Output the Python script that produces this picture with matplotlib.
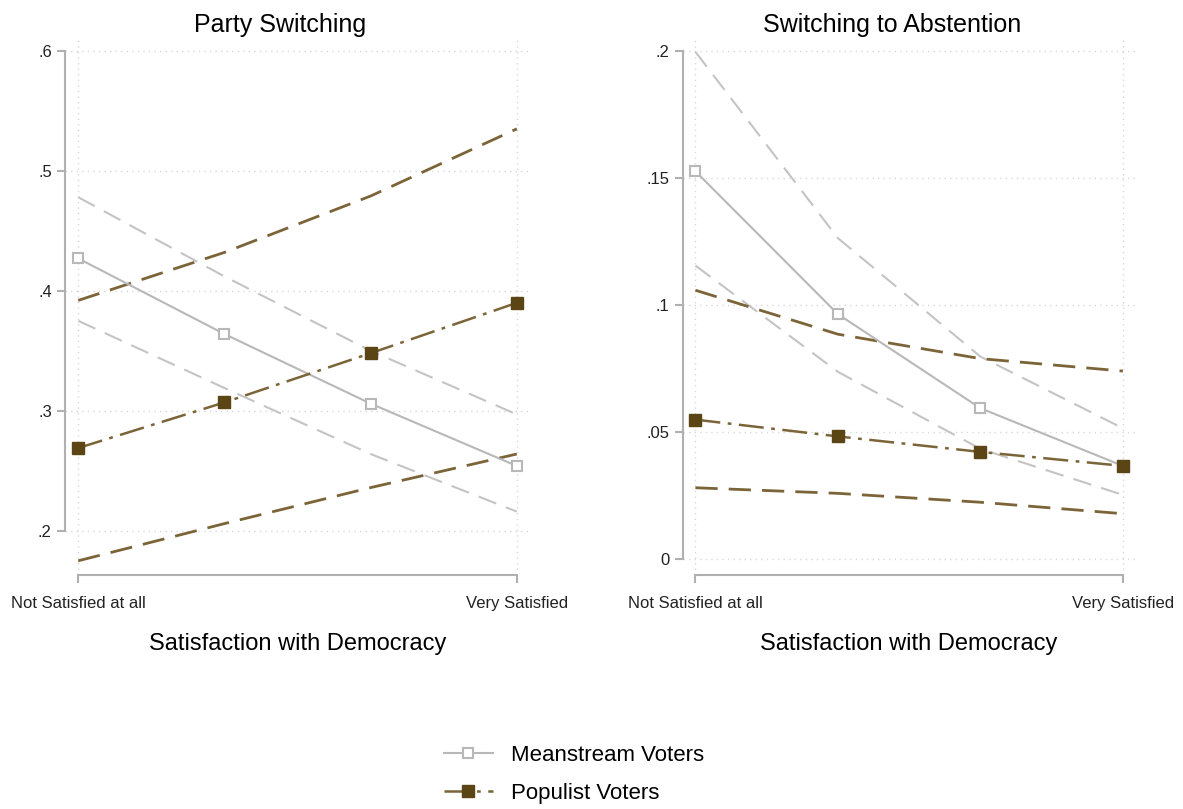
import matplotlib.pyplot as plt
from matplotlib.lines import Line2D

plt.rcParams['font.family'] = ['Liberation Sans', 'DejaVu Sans']

# satisfaction levels (1 = not at all, 4 = very)
levels = [1, 2, 3, 4]
xtick_pos = [1, 4]
xtick_labels = ["Not Satisfied at all", "Very Satisfied"]

# Party switching
ps_main = [0.427, 0.364, 0.306, 0.254]
ps_main_hi = [0.478, 0.412, 0.350, 0.297]
ps_main_lo = [0.375, 0.319, 0.264, 0.216]
ps_pop = [0.269, 0.307, 0.348, 0.390]
ps_pop_hi = [0.392, 0.432, 0.479, 0.535]
ps_pop_lo = [0.175, 0.206, 0.236, 0.264]
ps_ticks = [0.2, 0.3, 0.4, 0.5, 0.6]
ps_ticklabels = [".2", ".3", ".4", ".5", ".6"]

# Switching to abstention
ab_main = [0.1526, 0.0964, 0.0594, 0.0367]
ab_main_hi = [0.1996, 0.1263, 0.0797, 0.0515]
ab_main_lo = [0.1155, 0.0737, 0.0434, 0.0253]
ab_pop = [0.0549, 0.0483, 0.0422, 0.0367]
ab_pop_hi = [0.1058, 0.0885, 0.0789, 0.0740]
ab_pop_lo = [0.0281, 0.0259, 0.0224, 0.0179]
ab_ticks = [0, 0.05, 0.1, 0.15, 0.2]
ab_ticklabels = ["0", ".05", ".1", ".15", ".2"]

GREY = "#b8b8b8"
GREY_CI = "#c4c4c4"
BROWN = "#5c4515"
BROWN_CI = "#7b6438"
AXC = "#b0b0b0"


def panel(ax, title, main, main_hi, main_lo, pop, pop_hi, pop_lo, ticks, labels, ylim):
    for v in ticks:
        ax.axhline(v, color="#d8d8d8", lw=1, ls=(0, (1, 3)), zorder=0)
    for v in xtick_pos:
        ax.axvline(v, color="#d8d8d8", lw=1, ls=(0, (1, 3)), zorder=0)

    ax.plot(levels, main_hi, color=GREY_CI, lw=1.5, ls=(0, (9, 5)))
    ax.plot(levels, main_lo, color=GREY_CI, lw=1.5, ls=(0, (9, 5)))
    ax.plot(levels, pop_hi, color=BROWN_CI, lw=2, ls=(0, (8, 4)))
    ax.plot(levels, pop_lo, color=BROWN_CI, lw=2, ls=(0, (8, 4)))
    ax.plot(levels, main, color=GREY, lw=1.5, marker="s", ms=7.5,
            mfc="white", mec=GREY, mew=1.5)
    ax.plot(levels, pop, color=BROWN_CI, lw=1.8, ls=(0, (10, 3, 1.5, 3)),
            marker="s", ms=9, mfc=BROWN, mec=BROWN)

    ax.set_xlim(0.91, 4.09)
    ax.set_ylim(*ylim)
    ax.set_yticks(ticks)
    ax.set_yticklabels(labels)
    ax.set_xticks(xtick_pos)
    ax.set_xticklabels(xtick_labels)
    for s in ["top", "right"]:
        ax.spines[s].set_visible(False)
    ax.spines["left"].set_bounds(ticks[0], ticks[-1])
    ax.spines["bottom"].set_bounds(1, 4)
    ax.spines["left"].set_color(AXC)
    ax.spines["bottom"].set_color(AXC)
    ax.spines["left"].set_linewidth(1.5)
    ax.spines["bottom"].set_linewidth(1.5)
    ax.tick_params(axis="both", colors=AXC, labelcolor="#222222", labelsize=12,
                   length=6, width=1.5)
    ax.tick_params(axis="x", pad=9)
    ax.set_title(title, fontsize=18, pad=5, x=0.462)
    ax.set_xlabel("Satisfaction with Democracy", fontsize=17, labelpad=16)


fig = plt.figure(figsize=(11.83, 8.09), dpi=100)
ax1 = fig.add_axes([0.055, 0.289, 0.393, 0.663])
ax2 = fig.add_axes([0.577, 0.289, 0.383, 0.663])

panel(ax1, "Party Switching", ps_main, ps_main_hi, ps_main_lo,
      ps_pop, ps_pop_hi, ps_pop_lo, ps_ticks, ps_ticklabels, (0.163, 0.61))
panel(ax2, "Switching to Abstention", ab_main, ab_main_hi, ab_main_lo,
      ab_pop, ab_pop_hi, ab_pop_lo, ab_ticks, ab_ticklabels, (-0.0063, 0.2047))

handles = [
    Line2D([], [], color=GREY, lw=1.5, marker="s", ms=7.5, mfc="white", mec=GREY, mew=1.5),
    Line2D([], [], color=BROWN_CI, lw=1.8, ls=(0, (10, 3, 1.5, 3)), marker="s", ms=9,
           mfc=BROWN, mec=BROWN),
]
fig.legend(handles, ["Meanstream Voters", "Populist Voters"], loc="center",
           bbox_to_anchor=(0.485, 0.043), frameon=False, fontsize=16,
           handlelength=2.2, labelspacing=0.75)

plt.savefig("out.png", dpi=100)
